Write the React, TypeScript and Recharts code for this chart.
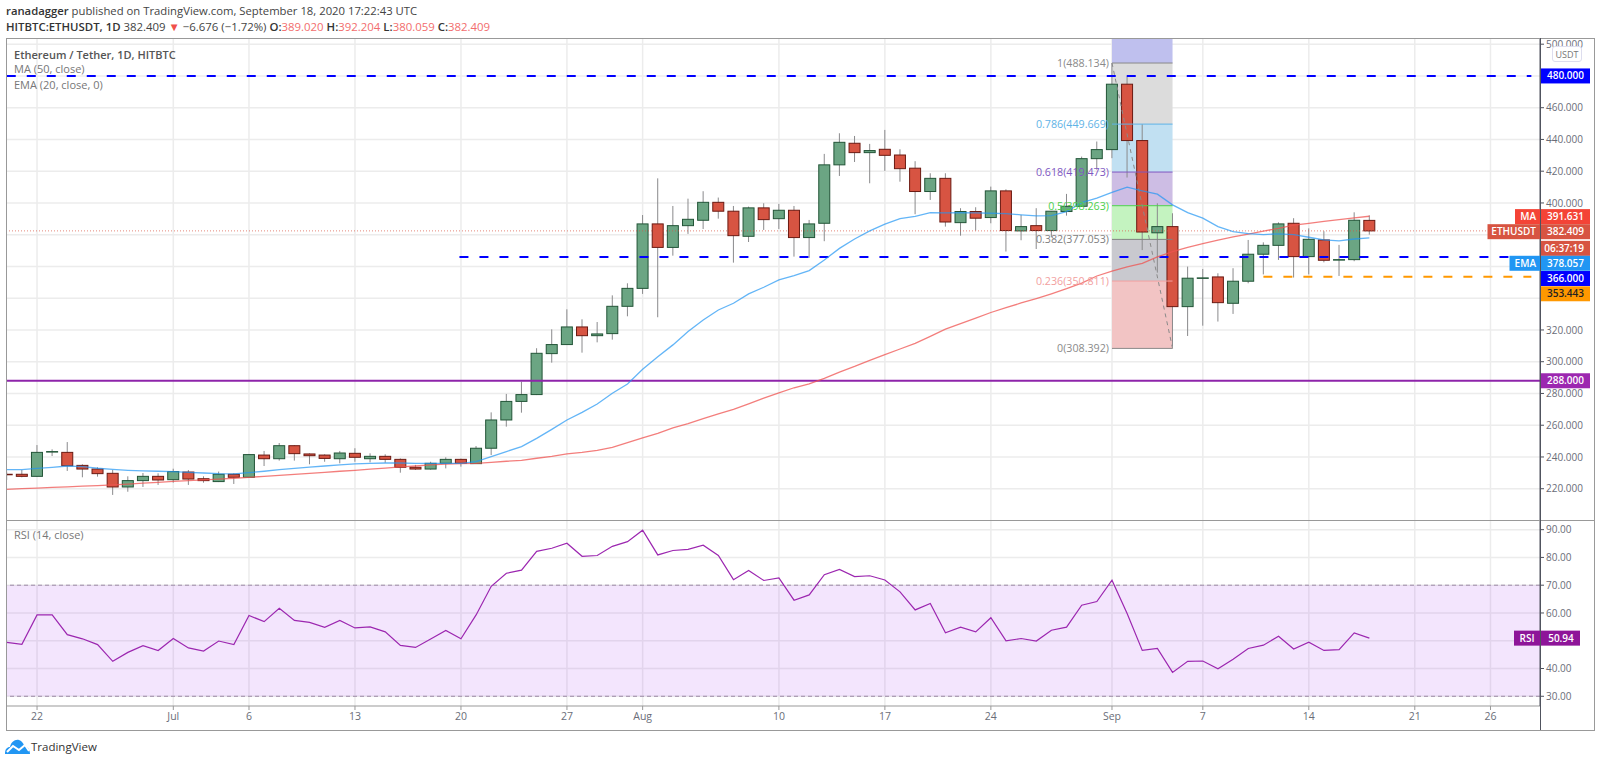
import {
  Bar,
  CartesianGrid,
  ComposedChart,
  Line,
  LineChart,
  ReferenceArea,
  ReferenceDot,
  ReferenceLine,
  XAxis,
  YAxis,
} from "recharts";

// daily candles, Jun 20 -> Sep 18
const openValues = [
  229.1, 229.1, 227.8, 243.2, 242.9, 234.7, 232.4, 229.7, 221.1, 225.1, 227.8, 225.7, 230.5, 226.3, 224.5, 229.1,
  227.2, 241.2, 238.9, 247.1, 241.9, 241.2, 238.9, 242.3, 238.9, 240.4, 238.5, 233.5, 232.4, 236, 238.5, 235.8,
  245.5, 263.3, 275, 279.3, 305.1, 310.8, 321.9, 316.4, 317.7, 334.9, 346.2, 386.8, 372, 385.7, 389.1, 400.4,
  394.8, 379, 396.9, 390.1, 395.4, 378.2, 387.2, 424, 437.6, 431.7, 433.8, 430.2, 421.9, 407.2, 415.5, 387.6,
  394.6, 390.8, 407.6, 382.4, 385.7, 382.6, 394.6, 397.9, 427.9, 433.6, 474.8, 439.3, 381.2, 385.1, 334.7, 352.5,
  353.4, 336.8, 350.7, 367.7, 373.3, 387.2, 366.2, 376.7, 364.1, 364.3, 389.02,
];
const highValues = [
  230.8, 231.8, 247.5, 244.8, 249.4, 235.4, 233.5, 231.8, 227.8, 229.9, 229.7, 232.6, 231.8, 227.8, 230.8, 229.7,
  241.9, 243.8, 248.8, 247.5, 242.3, 241.7, 243.8, 245.5, 242.3, 241.7, 239.1, 235, 237, 239.8, 238.9, 246.9,
  268.1, 279.7, 287.4, 308.5, 320.4, 333, 326.7, 325, 341.8, 349.4, 392.4, 415.5, 398.1, 402.7, 407.4, 403.4,
  398.1, 397.7, 399.8, 399.4, 398.1, 389.3, 430.9, 443.9, 442.2, 437.2, 446, 433.8, 426.3, 418.7, 418.7, 396.7,
  397.3, 410.3, 408.6, 392.5, 396.7, 394.9, 405.7, 429.2, 438.7, 488.1, 479.6, 449.6, 399.8, 393.5, 359.9, 358.4,
  355.7, 358.9, 376.7, 375.2, 387.8, 390.4, 384, 382.2, 373.6, 394.1, 392.204,
];
const lowValues = [
  225.5, 227.2, 227.5, 240.6, 231.2, 227.2, 227.6, 216.1, 218.1, 221.1, 222.4, 223.8, 222.4, 223.8, 224.2, 223,
  227, 234.3, 237.7, 237.7, 235.4, 237, 236, 237, 236.6, 236.4, 230.1, 231.8, 232, 232.8, 233.9, 235.7,
  241.2, 259.1, 267.9, 279, 299.4, 310.8, 305.7, 312.2, 313.9, 328.6, 342.7, 328, 366.8, 380.5, 383.6, 390.1,
  362.4, 375.4, 383, 383.6, 366.2, 365.4, 375.9, 417, 425.8, 412.4, 420.2, 413.4, 392.9, 401.9, 385.1, 379.4,
  382.6, 387.2, 369.4, 376.5, 371, 378.4, 392, 397.5, 421, 428.2, 416, 370.3, 356.1, 309.5, 316.2, 322.7,
  325.3, 330.1, 349.4, 355, 364.1, 353, 355, 362.6, 354, 363.3, 380.059,
];
const closeValues = [
  228.9, 227.8, 242.9, 243.4, 234.5, 232.4, 229.5, 221.1, 225.1, 227.8, 225.5, 230.8, 226.1, 225.1, 229.1, 227.2,
  241.5, 238.9, 247.1, 242.1, 240.8, 239.1, 242.5, 239.8, 240.4, 238.5, 233.5, 232.4, 236, 238.5, 236, 245.5,
  263.3, 275, 279.3, 305.3, 310.8, 321.9, 316.4, 317.5, 334.9, 346.2, 386.8, 372, 385.7, 389.7, 400.4, 394.8,
  379.4, 396.9, 389.5, 395.4, 378.2, 386.8, 424, 438.2, 431.7, 433, 430, 421.6, 407.2, 415.5, 388, 394.6,
  390.4, 407.6, 382.6, 385.1, 382.6, 394.8, 397.9, 427.9, 433.6, 474.8, 439.3, 381.7, 385.1, 334.7, 352.6, 352.8,
  337.2, 350.7, 367.7, 373.3, 386.8, 366.2, 377.1, 363.9, 364.3, 389.1, 382.409,
];
const emaValues = [
  232, 232, 232.8, 233.5, 234.3, 233.9, 232.9, 232.2, 231.6, 231.2, 231, 230.8, 230.3, 229.9, 229.5, 229.4,
  230.1, 231, 232, 232.8, 233.6, 234.3, 235, 235.6, 236, 236.2, 236.2, 236, 236, 236, 236, 237.1,
  240.2, 243.4, 246.5, 251.7, 257.4, 263.3, 268.1, 273.4, 280.1, 286, 295.2, 303.2, 310.6, 319, 326.3, 332.6,
  336.8, 342.7, 346.9, 351.5, 354.2, 357.4, 364.1, 371.4, 377.3, 382.4, 386.6, 390.1, 391.6, 393.9, 393.7, 393.9,
  393.8, 393.5, 393.3, 392.5, 391.8, 392, 394.6, 400.2, 403, 406.7, 409.9, 407.6, 405.5, 398.8, 393.9, 390.4,
  385.1, 381.9, 380.7, 380.1, 380.5, 380.1, 378.4, 376.7, 376.1, 377.3, 378.057,
];
const maValues = [
  219.6, 220, 220.4, 220.8, 221.2, 221.6, 222, 222.4, 222.9, 223.5, 224, 224.6, 225.1, 225.6, 226.1, 226.6,
  227.2, 227.8, 228.4, 229, 229.7, 230.3, 231, 231.6, 232.3, 233, 233.7, 234.3, 235, 235.5, 235.8, 236,
  236.6, 237.3, 237.9, 239.2, 240.4, 241.9, 242.9, 244.2, 246.1, 249, 252, 254.9, 258.3, 261, 264.1, 267.1,
  270, 273.4, 277, 280.4, 283.6, 286, 289.5, 293.5, 297, 300.8, 304.4, 308, 311.6, 316, 320.5, 324,
  327.5, 331, 334, 337, 339.8, 342.8, 346, 349.5, 354, 357, 359.8, 362, 366, 369.3, 372, 374.4,
  376.6, 378.6, 380.4, 382.3, 384, 386, 387.2, 388.4, 389.5, 390.6, 391.631,
];
const rsiValues = [
  49.4, 48.7, 59.3, 59.3, 52.2, 50.7, 48.6, 42.6, 45.8, 48.2, 46.5, 50.8, 47.4, 46.3, 49.9, 48.6,
  59.1, 56.9, 61.7, 57.3, 56.6, 54.8, 57.3, 54.6, 55, 53.2, 48.3, 47.6, 50.6, 53.7, 50.7, 59.3,
  69.6, 74.3, 75.4, 82.2, 83.3, 85.1, 80.4, 80.7, 84, 85.7, 89.8, 80.9, 82.5, 82.9, 84.4, 80.7,
  72, 75.3, 71.7, 72.6, 64.6, 66.5, 73.8, 75.7, 73.1, 73.4, 71.9, 67.6, 61.1, 63.4, 52.9, 54.9,
  53.2, 58.3, 50, 50.8, 49.9, 53.8, 54.9, 62.8, 64.1, 71.8, 59.8, 46.5, 47.2, 38.6, 42.6, 42.7,
  39.9, 43.3, 47.2, 48.4, 51.6, 47, 49.5, 46.5, 46.8, 52.8, 50.94,
];

// day 0 is Jun 22
const firstDay = -2;
const dayTicks = [0, 9, 14, 21, 28, 35, 40, 49, 56, 63, 71, 77, 84, 91, 96];
const dayLabels = ["22", "Jul", "6", "13", "20", "27", "Aug", "10", "17", "24", "Sep", "7", "14", "21", "26"];
const dayDomain = [-2.05, 99.27];

const priceDomain = [200.3, 503.9];
const priceGrid = [220, 240, 260, 280, 300, 320, 340, 360, 380, 400, 420, 440, 460, 480, 500];
const priceTicks = [220, 240, 260, 280, 300, 320, 400, 420, 440, 460, 500];

const fibLevels = [488.134, 449.669, 419.473, 398.263, 377.053, 350.811, 308.392];
const fibNames = ["1", "0.786", "0.618", "0.5", "0.382", "0.236", "0"];
const fibFills = ["#dcdcdc", "#c1e0f2", "#cdbde4", "#c4f3c0", "#c9c9cf", "#f2c4c4"];
const fibLines = ["#8a8a8a", "#5fb3e6", "#7e57c2", "#4cd04c", "#808080", "#f2a0a0", "#8a8a8a"];
const fibStart = 71;
const fibEnd = 75;

// slot = where TradingView stacked the tag on the scale, not the price itself
const tagSlots = [480, 391.4, 381.9, 371.4, 362, 352.4, 342.8, 288];
const tagTexts = ["480.000", "391.631", "382.409", "06:37:19", "378.057", "366.000", "353.443", "288.000"];
const tagNames = ["", "MA", "ETHUSDT", "", "EMA", "", "", ""];
const tagFills = ["#0000ff", "#f44336", "#d75442", "#d75442", "#2196f3", "#0000ff", "#ff9800", "#9c27b0"];

const rsiDomain = [26.5, 93.3];
const rsiGrid = [30, 40, 50, 60, 70, 80, 90];
const rsiTicks = [30, 40, 60, 70, 80, 90];

const candles = openValues.map((open, i) => ({
  day: firstDay + i,
  open,
  high: highValues[i],
  low: lowValues[i],
  close: closeValues[i],
  ema: emaValues[i],
  ma: maValues[i],
}));
const rsiData = rsiValues.map((rsi, i) => ({ day: firstDay + i, rsi }));

const FONT = "'Open Sans', sans-serif";
const GRID = "#ececec";
const AXIS_TEXT = "#6a6d78";
const AXIS_LINE = "#50535e";
const TICK_SIZE = 10;

const Candle = (props: any) => {
  const { x, y, width, height, payload } = props;
  const top = Math.min(y, y + height);
  const h = Math.abs(height);
  const range = payload.high - payload.low || 1;
  const yOf = (v: number) => top + ((payload.high - v) / range) * h;
  const up = payload.close >= payload.open;
  const bodyTop = yOf(Math.max(payload.open, payload.close));
  const bodyBottom = yOf(Math.min(payload.open, payload.close));
  const mid = x + width / 2;
  return (
    <g>
      <line x1={mid} x2={mid} y1={top} y2={top + h} stroke="#8a8a8c" strokeWidth={1} />
      <rect
        x={x}
        y={bodyTop}
        width={width}
        height={Math.max(bodyBottom - bodyTop, 0.5)}
        fill={up ? "#6ba583" : "#d75442"}
        stroke={up ? "#225437" : "#6b1a12"}
        strokeWidth={1}
      />
    </g>
  );
};

const tagShape = (i: number) => (props: any) => {
  const { cx, cy } = props;
  const name = tagNames[i];
  const nameWidth = name.length * 5.5 + 14;
  return (
    <g fontFamily={FONT} fontSize={TICK_SIZE} fontWeight={600}>
      <rect x={cx} y={cy - 7.5} width={50} height={15} fill={tagFills[i]} />
      <text x={cx + 44} y={cy + 3.5} textAnchor="end" fill={tagFills[i] === "#ff9800" ? "#222" : "#fff"}>
        {tagTexts[i]}
      </text>
      {name && <rect x={cx - nameWidth} y={cy - 7.5} width={nameWidth} height={15} fill={tagFills[i]} />}
      {name && (
        <text x={cx - 4} y={cy + 3.5} textAnchor="end" fill="#fff">
          {name}
        </text>
      )}
    </g>
  );
};

const fibLabel = (i: number) => (props: any) => (
  <text
    x={props.cx - 3}
    y={props.cy + 4}
    textAnchor="end"
    fontFamily={FONT}
    fontSize={10.7}
    fill={fibLines[i]}
  >
    {`${fibNames[i]}(${fibLevels[i].toFixed(3)})`}
  </text>
);

const rsiTag = (props: any) => {
  const { cx, cy } = props;
  return (
    <g fontFamily={FONT} fontSize={TICK_SIZE} fontWeight={600} fill="#fff">
      <rect x={cx - 26} y={cy - 7.5} width={66} height={15} fill="#8e1599" />
      <text x={cx - 13} y={cy + 3.5} textAnchor="middle">
        RSI
      </text>
      <text x={cx + 21} y={cy + 3.5} textAnchor="middle">
        50.94
      </text>
    </g>
  );
};

const overlay = (style: any) => ({ position: "absolute", pointerEvents: "none", ...style });

export default function App() {
  const rightDay = dayDomain[1];
  return (
    <div
      style={{
        position: "absolute",
        left: 0,
        top: 0,
        width: 1600,
        height: 763,
        overflow: "hidden",
        background: "#fff",
        fontFamily: FONT,
      }}
    >
      <div style={overlay({ left: 6, top: 3, fontSize: 11.3, color: "#444", whiteSpace: "nowrap" })}>
        <b style={{ fontWeight: 600, color: "#333" }}>ranadagger</b> published on TradingView.com, September 18, 2020
        17:22:43 UTC
      </div>
      <div style={overlay({ left: 6, top: 19, fontSize: 11.4, color: "#444", whiteSpace: "nowrap" })}>
        <b style={{ fontWeight: 600, color: "#333" }}>HITBTC:ETHUSDT, 1D</b> 382.409{" "}
        <span style={{ color: "#f0504a" }}>▼</span> −6.676 (−1.72%){" "}
        <b style={{ fontWeight: 600, color: "#333" }}>O:</b>
        <span style={{ color: "#f26d6d" }}>389.020</span> <b style={{ fontWeight: 600, color: "#333" }}>H:</b>
        <span style={{ color: "#f26d6d" }}>392.204</span> <b style={{ fontWeight: 600, color: "#333" }}>L:</b>
        <span style={{ color: "#f26d6d" }}>380.059</span> <b style={{ fontWeight: 600, color: "#333" }}>C:</b>
        <span style={{ color: "#f26d6d" }}>382.409</span>
      </div>

      <div style={{ position: "absolute", left: 6, top: 38 }}>
        <ComposedChart width={1588} height={482} data={candles} margin={{ top: 0, right: 0, bottom: 0, left: 0 }}>
          <CartesianGrid
            stroke={GRID}
            strokeWidth={1.5}
            horizontalValues={priceGrid}
            verticalValues={dayTicks}
          />
          <XAxis type="number" dataKey="day" domain={dayDomain} allowDataOverflow hide ticks={dayTicks} />
          <YAxis
            orientation="right"
            width={54}
            domain={priceDomain}
            allowDataOverflow
            ticks={priceTicks}
            interval={0}
            tickSize={4}
            tickMargin={2}
            tickFormatter={(v: number) => v.toFixed(3)}
            tick={{ fill: AXIS_TEXT, fontSize: TICK_SIZE, fontFamily: FONT, textAnchor: "start" }}
            stroke={AXIS_LINE}
          />

          <ReferenceArea
            x1={fibStart}
            x2={fibEnd}
            y1={fibLevels[0]}
            y2={priceDomain[1]}
            fill="#bfc0ee"
            fillOpacity={1}
            stroke="none"
          />
          {fibFills.map((fill, i) => (
            <ReferenceArea
              key={fill}
              x1={fibStart}
              x2={fibEnd}
              y1={fibLevels[i + 1]}
              y2={fibLevels[i]}
              fill={fill}
              fillOpacity={1}
              stroke="none"
            />
          ))}
          {fibLevels.map((level, i) => (
            <ReferenceLine
              key={level}
              segment={[
                { x: fibStart, y: level },
                { x: fibEnd, y: level },
              ]}
              stroke={fibLines[i]}
              strokeWidth={1}
            />
          ))}
          {fibLevels.map((level, i) => (
            <ReferenceDot key={level} x={fibStart} y={level} r={0} shape={fibLabel(i)} />
          ))}
          <ReferenceLine
            segment={[
              { x: fibStart, y: fibLevels[0] },
              { x: fibEnd, y: fibLevels[6] },
            ]}
            stroke="#8a8a8a"
            strokeDasharray="4 4"
          />

          <ReferenceLine y={382.409} stroke="#d75442" strokeOpacity={0.7} strokeDasharray="1 2" />
          <ReferenceLine y={288} stroke="#8e24aa" strokeWidth={2} />
          <ReferenceLine
            segment={[
              { x: -2, y: 480 },
              { x: 98.7, y: 480 },
            ]}
            stroke="#0000ff"
            strokeWidth={2}
            strokeDasharray="9 11"
          />
          <ReferenceLine
            segment={[
              { x: 27.9, y: 366 },
              { x: 99, y: 366 },
            ]}
            stroke="#0000ff"
            strokeWidth={2}
            strokeDasharray="9 11"
          />
          <ReferenceLine
            segment={[
              { x: 81, y: 353.443 },
              { x: 98.7, y: 353.443 },
            ]}
            stroke="#ff9800"
            strokeWidth={2}
            strokeDasharray="9 11"
          />

          <Line
            dataKey="ma"
            stroke="#ef5350"
            strokeOpacity={0.75}
            strokeWidth={1.3}
            dot={false}
            isAnimationActive={false}
          />
          <Line
            dataKey="ema"
            stroke="#2196f3"
            strokeOpacity={0.7}
            strokeWidth={1.3}
            dot={false}
            isAnimationActive={false}
          />
          <Bar
            dataKey={(d: any) => [d.low, d.high]}
            barSize={11}
            shape={<Candle />}
            isAnimationActive={false}
          />

          {tagSlots.map((slot, i) => (
            <ReferenceDot key={tagTexts[i]} x={rightDay} y={slot} r={0} ifOverflow="visible" shape={tagShape(i)} />
          ))}
        </ComposedChart>
      </div>

      <div style={{ position: "absolute", left: 6, top: 520 }}>
        <LineChart width={1588} height={210} data={rsiData} margin={{ top: 0.5, right: 0, bottom: 0, left: 0 }}>
          <CartesianGrid stroke={GRID} strokeWidth={1.5} horizontalValues={rsiGrid} verticalValues={dayTicks} />
          <XAxis
            type="number"
            dataKey="day"
            domain={dayDomain}
            allowDataOverflow
            ticks={dayTicks}
            interval={0}
            height={24}
            tickSize={4}
            tickMargin={3}
            tickFormatter={(d: number) => dayLabels[dayTicks.indexOf(d)]}
            tick={{ fill: AXIS_TEXT, fontSize: 10.5, fontFamily: FONT }}
            stroke="#999"
          />
          <YAxis
            orientation="right"
            width={54}
            domain={rsiDomain}
            allowDataOverflow
            ticks={rsiTicks}
            interval={0}
            tickSize={4}
            tickMargin={2}
            tickFormatter={(v: number) => v.toFixed(2)}
            tick={{ fill: AXIS_TEXT, fontSize: TICK_SIZE, fontFamily: FONT, textAnchor: "start" }}
            stroke={AXIS_LINE}
          />
          <ReferenceArea y1={30} y2={70} fill="#9c27f0" fillOpacity={0.12} stroke="none" />
          <ReferenceLine y={70} stroke="#9b8aa5" strokeDasharray="4 3" />
          <ReferenceLine y={30} stroke="#9b8aa5" strokeDasharray="4 3" />
          <Line dataKey="rsi" stroke="#9c27b0" strokeWidth={1.2} dot={false} isAnimationActive={false} />
          <ReferenceDot x={rightDay} y={50.94} r={0} ifOverflow="visible" shape={rsiTag} />
        </LineChart>
      </div>

      {/* pane frame */}
      <div style={overlay({ left: 6, top: 38, width: 1587, height: 691, border: "1px solid #999" })} />
      <div style={overlay({ left: 6, top: 520, width: 1588, height: 1, background: "#999" })} />
      <div style={overlay({ left: 1540, top: 38, width: 1, height: 692, background: AXIS_LINE })} />

      <div style={overlay({ left: 14, top: 47, fontSize: 11, fontWeight: 600, color: "#555" })}>
        Ethereum / Tether, 1D, HITBTC
      </div>
      <div style={overlay({ left: 14, top: 61, fontSize: 11, color: "#777" })}>MA (50, close)</div>
      <div style={overlay({ left: 14, top: 77, fontSize: 11, color: "#777" })}>EMA (20, close, 0)</div>
      <div style={overlay({ left: 14, top: 527, fontSize: 11, color: "#777" })}>RSI (14, close)</div>

      <div
        style={overlay({
          left: 1552,
          top: 46,
          width: 30,
          height: 16,
          lineHeight: "15px",
          textAlign: "center",
          fontSize: 9,
          color: "#777",
          background: "#fff",
          border: "1px solid #dde",
          borderRadius: 3,
          boxSizing: "border-box",
        })}
      >
        USDT
      </div>

      <svg style={overlay({ left: 5, top: 739 })} width={25} height={15} viewBox="0 0 25 15">
        <path
          d="M0 15 C0 10 2 8 5 8 C6 3 10 0 14 1 C17 2 19 5 19 7 C22 7 25 10 25 15 Z"
          fill="#2196f3"
        />
        <path d="M2 13 L8 7 L14 11 L20 6 L24 12" fill="none" stroke="#fff" strokeWidth={2} />
      </svg>
      <div style={overlay({ left: 31, top: 739, fontSize: 11.5, color: "#333" })}>TradingView</div>
    </div>
  );
}
